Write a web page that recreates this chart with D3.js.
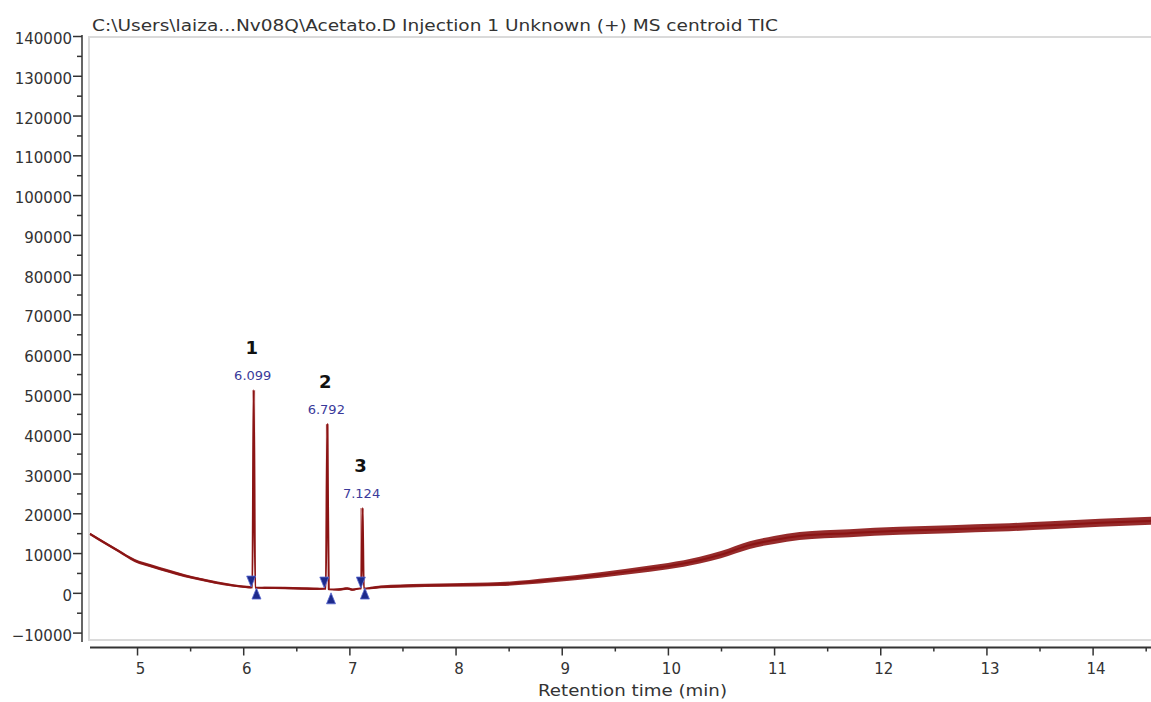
<!DOCTYPE html>
<html>
<head>
<meta charset="utf-8">
<script src="https://cdn.jsdelivr.net/npm/d3@7"></script>
<style>
  html, body { margin: 0; padding: 0; background: #fff; }
  svg { display: block; }
  text { font-family: "DejaVu Sans", Verdana, sans-serif; }
</style>
</head>
<body>
<svg id="chart" width="1151" height="702"></svg>
<script>
// ---------- data ----------
const titleText = "C:\\Users\\laiza...Nv08Q\\Acetato.D Injection 1 Unknown (+) MS centroid TIC";
const xAxisTitle = "Retention time (min)";

const xTicks = [5, 6, 7, 8, 9, 10, 11, 12, 13, 14];
const yTicks = [-10000, 0, 10000, 20000, 30000, 40000, 50000, 60000, 70000,
                80000, 90000, 100000, 110000, 120000, 130000, 140000];

// TIC trace: retention time (min), intensity, noise half-width
const traceTime = [4.557, 4.70, 4.82, 4.98, 5.14, 5.29, 5.45, 5.60, 5.76, 5.92, 6.00, 6.07,
  6.086, 6.099, 6.113, 6.20, 6.39, 6.55, 6.70, 6.778, 6.792, 6.806, 6.90, 6.98, 7.03, 7.10,
  7.112, 7.124, 7.136, 7.20, 7.30, 7.48, 7.95, 8.42, 8.89, 9.36, 9.83, 10.00, 10.30, 10.50,
  10.77, 11.00, 11.24, 11.71, 12.18, 12.66, 13.13, 13.60, 14.07, 14.55];
const traceValue = [14800, 12500, 10600, 8100, 6700, 5500, 4300, 3400, 2500, 1800, 1550, 1400,
  1350, 51000, 1250, 1250, 1200, 1100, 1000, 1000, 42400, 900, 850, 1100, 800, 1100,
  1100, 21300, 1100, 1200, 1500, 1700, 1950, 2200, 3200, 4500, 6100, 6700, 8200, 9600,
  12000, 13300, 14300, 15000, 15600, 16000, 16400, 17000, 17600, 18100];
const traceNoise = [300, 350, 350, 400, 400, 400, 400, 350, 350, 300, 300, 300,
  0, 0, 0, 300, 300, 300, 300, 0, 0, 0, 300, 300, 300, 0,
  0, 0, 0, 300, 350, 400, 450, 500, 600, 700, 800, 800, 850, 900,
  950, 1000, 1000, 1000, 1000, 1000, 1000, 1000, 1000, 1000];

// integrated peaks
const peakNumber = ["1", "2", "3"];
const peakRT = [6.099, 6.792, 7.124];
const peakApex = [51000, 42400, 21300];
const peakStartTime = [6.075, 6.764, 7.108];
const peakStartValue = [1450, 1200, 1200];
const peakEndTime = [6.125, 6.827, 7.146];
const peakEndValue = [1200, 0, 1200];

// ---------- layout ----------
const svg = d3.select("#chart");
const x = d3.scaleLinear().domain([4.557, 14.55]).range([90, 1151]);
const y = d3.scaleLinear().domain([-10000, 140000]).range([632.6, 36]);
const axisColor = "#333";
const traceColor = "#8b1414";
const markColor = "#1d2a8c";

// plot frame
svg.append("rect")
  .attr("x", 89).attr("y", 37).attr("width", 1070).attr("height", 603)
  .attr("fill", "none").attr("stroke", "#dadada").attr("stroke-width", 2);

// title (reference font is wider than DejaVu, so stretch to its measured width)
svg.append("text").attr("x", 92).attr("y", 30.5)
  .attr("font-size", 15).attr("fill", "#333")
  .attr("textLength", 686).attr("lengthAdjust", "spacingAndGlyphs").text(titleText);

// ---------- y axis ----------
const yAxisX = 82;
const yMinor = d3.range(-5000, 140000, 10000);
const gyMinor = svg.append("g").attr("transform", `translate(${yAxisX},0)`)
  .call(d3.axisLeft(y).tickValues(yMinor).tickSize(5).tickFormat(""));
gyMinor.select(".domain").remove();
const gy = svg.append("g").attr("transform", `translate(${yAxisX},0)`)
  .call(d3.axisLeft(y).tickValues(yTicks).tickSize(9).tickPadding(1).tickFormat(d3.format("d")));
gy.select(".domain").remove();
svg.append("line").attr("x1", yAxisX).attr("x2", yAxisX).attr("y1", 35).attr("y2", 642)
  .attr("stroke", axisColor).attr("stroke-width", 1.5);
gy.selectAll("text").attr("font-size", 15).attr("fill", "#333")
  .attr("font-family", "DejaVu Sans, Verdana, sans-serif").attr("dy", "0.5em");

// ---------- x axis ----------
const xAxisY = 647.5;
const xMinor = d3.range(5.5, 14.6, 1);
const gxMinor = svg.append("g").attr("transform", `translate(0,${xAxisY})`)
  .call(d3.axisBottom(x).tickValues(xMinor).tickSize(4).tickFormat(""));
gxMinor.select(".domain").remove();
const gx = svg.append("g").attr("transform", `translate(0,${xAxisY})`)
  .call(d3.axisBottom(x).tickValues(xTicks).tickSize(8).tickPadding(8).tickFormat(d3.format("d")));
gx.select(".domain").remove();
svg.append("line").attr("x1", 90).attr("x2", 1151).attr("y1", xAxisY).attr("y2", xAxisY)
  .attr("stroke", axisColor).attr("stroke-width", 2);
svg.selectAll("g .tick line").attr("stroke", axisColor).attr("stroke-width", 1.5);
gx.selectAll("text").attr("font-size", 15).attr("fill", "#333")
  .attr("font-family", "DejaVu Sans, Verdana, sans-serif").attr("dx", 3);

svg.append("text").attr("x", 538).attr("y", 696)
  .attr("font-size", 15).attr("fill", "#333")
  .attr("textLength", 189).attr("lengthAdjust", "spacingAndGlyphs").text(xAxisTitle);

// ---------- trace ----------
const trace = traceTime.map((t, i) => ({t, v: traceValue[i], n: traceNoise[i]}));
const plot = svg.append("g");

// light fill under integrated peaks
peakRT.forEach((rt, i) => {
  const pts = trace.filter(d => d.t >= peakStartTime[i] - 0.02 && d.t <= peakEndTime[i] + 0.02 && d.n === 0);
  plot.append("path").datum(pts)
    .attr("d", d3.area().x(d => x(d.t)).y0(d3.min(pts, d => y(d.v))).y1(d => y(d.v)))
    .attr("fill", "#d8a3a3");
});

// noise band
plot.append("path").datum(trace)
  .attr("d", d3.area().x(d => x(d.t)).y0(d => y(d.v - d.n)).y1(d => y(d.v + d.n)).curve(d3.curveMonotoneX))
  .attr("fill", traceColor).attr("opacity", 0.9);
// trace line
plot.append("path").datum(trace)
  .attr("d", d3.line().x(d => x(d.t)).y(d => y(d.v)).curve(d3.curveMonotoneX))
  .attr("fill", "none").attr("stroke", traceColor).attr("stroke-width", 2).attr("stroke-linejoin", "round");

// ---------- peak markers ----------
const tri = (cx, cy, dir) => dir === "down"
  ? `M${cx - 4.5},${cy - 11} L${cx + 4.5},${cy - 11} L${cx},${cy} Z`
  : `M${cx - 4.5},${cy + 11} L${cx + 4.5},${cy + 11} L${cx},${cy} Z`;
peakRT.forEach((rt, i) => {
  plot.append("path").attr("d", tri(x(peakStartTime[i]), y(peakStartValue[i]), "down"))
    .attr("fill", markColor).attr("stroke", "#5a6ad0").attr("stroke-width", 0.8);
  plot.append("path").attr("d", tri(x(peakEndTime[i]), y(peakEndValue[i]), "up"))
    .attr("fill", markColor).attr("stroke", "#5a6ad0").attr("stroke-width", 0.8);
});

// ---------- peak labels ----------
peakRT.forEach((rt, i) => {
  const px = x(rt), py = y(peakApex[i]);
  svg.append("text").attr("x", px - 2).attr("y", py - 36).attr("text-anchor", "middle")
    .attr("font-size", 18).attr("font-weight", "bold").attr("fill", "#111").text(peakNumber[i]);
  svg.append("text").attr("x", px - 1).attr("y", py - 10).attr("text-anchor", "middle")
    .attr("font-size", 13).attr("fill", "#3a3a9a").text(d3.format(".3f")(rt));
});
</script>
</body>
</html>
